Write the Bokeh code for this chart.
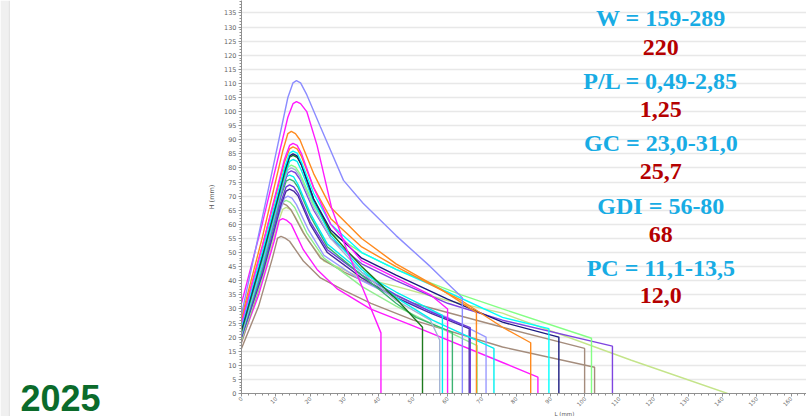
import math
from bokeh.plotting import figure
from bokeh.layouts import row
from bokeh.models import Label, Range1d, SingleIntervalTicker, BoxAnnotation
from bokeh.embed import file_html
from bokeh.resources import INLINE

# ---- alveogram curves: L (mm) points and H (mm) points ----
L_violet = [0, 6, 13.5, 15, 16, 17.2, 19, 23, 29.7, 35.4, 45, 55, 64.3, 64.3]
H_violet = [28, 62, 105, 110.2, 111, 110.2, 106, 94.5, 75.6, 67.5, 56, 45, 34, 0]

L_magenta_a = [0, 6, 13.5, 15, 16, 17.2, 19, 22, 26.2, 30, 35.4, 40.6, 40.6]
H_magenta_a = [32, 60, 98, 102.8, 103.5, 102.8, 100, 88, 66, 53, 37, 21.5, 0]

L_orange_a = [0, 6, 12, 13.5, 14.5, 15.7, 17, 21, 26, 35, 45, 58, 68.4, 68.4]
H_orange_a = [27, 55, 86, 92.2, 93, 92.2, 90, 78, 66, 55, 46, 37, 28.8, 0]

L_magenta_b = [0, 6, 12.5, 14, 15, 16.2, 17.5, 21, 26, 35, 45, 55, 60, 60]
H_magenta_b = [25, 52, 83, 88, 88.7, 88, 85, 73, 60, 47, 41, 35, 30, 0]

L_orange_b = [0, 6, 12.5, 14, 15, 16.2, 17.5, 21, 26, 35, 45, 64, 76, 84.2, 84.2]
H_orange_b = [26, 52, 82, 86.8, 87.5, 86.8, 84, 73, 62, 52, 45, 33, 23.5, 18, 0]

L_cyan_a = [0, 6, 12.5, 14, 15, 16.2, 17.5, 21, 26, 35, 45, 60, 76, 89.5, 89.5]
H_cyan_a = [24, 50, 80, 85.3, 86, 85.3, 82, 71, 60, 50, 44, 36, 27, 23, 0]

L_navy = [0, 6, 12.5, 14, 15, 16.2, 17.5, 21, 26, 35, 45, 60, 76, 92.4, 92.4]
H_navy = [23, 49, 79, 84.3, 85, 84.3, 81, 69, 58, 48, 42, 33.5, 25.3, 20, 0]

L_dkgreen = [0, 6, 12.5, 14, 15, 16.2, 17.5, 21, 26, 35, 45.5, 52.7, 52.7]
H_dkgreen = [22, 48, 78, 83.8, 84.5, 83.8, 81, 69, 57, 45, 33, 23.5, 0]

L_cyan_b = [0, 6, 12.5, 14, 15, 16.2, 17.5, 21, 26, 35, 45, 55.6, 73.5, 73.5]
H_cyan_b = [22, 47, 77, 82.3, 83, 82.3, 79, 68, 56, 44, 34, 26, 16, 0]

L_ltgreen_a = [0, 6, 12, 13.5, 14.5, 15.7, 17, 21, 26, 35, 45, 64, 76, 101.9, 101.9]
H_ltgreen_a = [23, 48, 75, 80.3, 81, 80.3, 78, 67, 57, 50, 44, 35, 30, 19.6, 0]

L_greyblue = [0, 6, 12, 13.5, 14.5, 15.7, 17, 21, 26, 35, 45, 55, 57.7, 57.7]
H_greyblue = [21, 46, 74, 79.3, 80, 79.3, 77, 66, 55, 43, 33, 26, 19, 0]

L_purple = [0, 6, 12, 13.5, 14.5, 15.7, 17, 21, 26, 35, 45, 60, 76, 108, 108]
H_purple = [22, 46, 73, 78.3, 79, 78.3, 76, 65, 55, 46, 40, 32, 26, 16.8, 0]

L_cyan_c = [0, 6, 11.5, 13, 14, 15.2, 16.5, 20, 25, 35, 45, 58.5, 58.5]
H_cyan_c = [21, 45, 71, 76.8, 77.5, 76.8, 74, 64, 53, 43, 36, 27.7, 0]

L_medgreen = [0, 6, 11.5, 13, 14, 15.2, 16.5, 20, 25, 35, 45, 50.8, 61.4, 61.4]
H_medgreen = [21, 44, 70, 75.3, 76, 75.3, 73, 63, 52, 42, 32, 27, 21.7, 0]

L_blueviolet = [0, 6, 11.5, 13, 14, 15.2, 16.5, 20, 25, 35, 45, 55, 66.6, 66.6]
H_blueviolet = [20, 43, 68, 73.3, 74, 73.3, 71, 61, 51, 42, 35, 29, 23.4, 0]

L_dkpurple = [0, 6, 11.5, 13, 14, 15.2, 16.5, 20, 25, 35, 45, 55, 66.3, 66.3]
H_dkpurple = [20, 42, 67, 71.8, 72.5, 71.8, 70, 60, 50, 41, 34, 28.5, 23, 0]

L_ltviolet = [0, 6, 11, 12.5, 13.5, 14.7, 16, 19.5, 24, 35, 45, 60, 71.2, 71.2]
H_ltviolet = [20, 42, 64, 69.3, 70, 69.3, 67, 58, 49, 40, 34, 27, 20, 0]

L_ltgreen_b = [0, 6, 10.5, 12, 13, 14.2, 15.5, 19, 24, 35, 45, 55, 68.6, 68.6]
H_ltgreen_b = [19, 41, 62, 67.8, 68.5, 67.8, 66, 57, 48, 38, 31, 25, 17, 0]

L_brown_a = [0, 5, 9.5, 11, 12, 13.2, 14.5, 18, 23, 30, 38.3, 50, 76, 99.9, 99.9]
H_brown_a = [18, 37, 58, 66.7, 67.4, 66.7, 65, 57, 48, 43, 38.4, 32, 23.5, 16, 0]

L_yellowgreen = [0, 6, 10.5, 12, 13, 14.2, 15.5, 19, 24, 35, 45, 60, 76, 113.5, 141.5]
H_yellowgreen = [19, 40, 60, 65.3, 66, 65.3, 63, 55, 47, 41, 38, 33, 28.5, 11.8, 0]

L_magenta_c = [0, 5, 9.5, 11, 12, 13.2, 14.5, 18, 22, 28, 37.5, 50, 76, 86.3, 86.3]
H_magenta_c = [18.5, 35, 54, 61.4, 62, 61.4, 60, 51, 44, 37, 30, 24, 11, 5.8, 0]

L_brown_b = [0, 5, 9, 10.5, 11.5, 12.7, 14, 18, 23, 30, 37.7, 50, 76, 102.8, 102.8]
H_brown_b = [16, 31, 48, 55.1, 55.7, 55.1, 54, 47, 41, 36.5, 32, 26, 16.5, 9.3, 0]

# ---- texts ----
param_labels = ["W = 159-289", "P/L = 0,49-2,85", "GC = 23,0-31,0", "GDI = 56-80", "PC = 11,1-13,5"]
param_means = ["220", "1,25", "25,7", "68", "12,0"]
year_label = "2025"
x_title = "L (mm)"
y_title = "H (mm)"

curves = [
    (L_yellowgreen, H_yellowgreen, "#C4E48A"),
    (L_brown_b, H_brown_b, "#A48C7C"),
    (L_magenta_c, H_magenta_c, "#FF1AFF"),
    (L_brown_a, H_brown_a, "#A48C7C"),
    (L_ltgreen_b, H_ltgreen_b, "#90EE90"),
    (L_ltviolet, H_ltviolet, "#9A9AFF"),
    (L_dkpurple, H_dkpurple, "#4B2CA0"),
    (L_blueviolet, H_blueviolet, "#6A3BD9"),
    (L_medgreen, H_medgreen, "#3CB371"),
    (L_cyan_c, H_cyan_c, "#00EEF0"),
    (L_purple, H_purple, "#7F45E0"),
    (L_greyblue, H_greyblue, "#A4B4D4"),
    (L_ltgreen_a, H_ltgreen_a, "#84FF84"),
    (L_cyan_b, H_cyan_b, "#00F0F0"),
    (L_dkgreen, H_dkgreen, "#1E7A1E"),
    (L_navy, H_navy, "#1A1A80"),
    (L_cyan_a, H_cyan_a, "#00FFFF"),
    (L_orange_b, H_orange_b, "#FF8A1E"),
    (L_magenta_b, H_magenta_b, "#FF1AFF"),
    (L_orange_a, H_orange_a, "#FF8A1E"),
    (L_magenta_a, H_magenta_a, "#FF1AFF"),
    (L_violet, H_violet, "#8C8CFF"),
]

# ---- left panel (slide margin with the year) ----
side = figure(width=205, height=416, x_range=Range1d(0, 205), y_range=Range1d(0, 416),
              output_backend="svg", toolbar_location=None,
              min_border_left=0, min_border_right=0, min_border_top=0, min_border_bottom=0)
side.axis.visible = False
side.grid.visible = False
side.outline_line_color = None
side.add_layout(BoxAnnotation(left=0, right=8, fill_color="#F0F0F0", fill_alpha=1.0, line_color=None))
side.add_layout(BoxAnnotation(left=8, right=9.5, fill_color="#E4E4E4", fill_alpha=1.0, line_color=None))
side.add_layout(Label(x=20, y=19, text=year_label, text_align="left", text_baseline="alphabetic",
                      text_font="Liberation Sans", text_font_style="bold",
                      text_font_size="36px", text_color="#0B6B2B"))

# ---- main alveogram chart ----
p = figure(width=601, height=416, x_range=Range1d(0, 164.5), y_range=Range1d(0, 139.4),
           output_backend="svg", toolbar_location=None,
           min_border_left=32, min_border_right=0, min_border_top=0, min_border_bottom=23)
p.outline_line_color = None
p.background_fill_color = "white"
p.border_fill_color = "white"

for fig in (side, p):
    try:
        fig.frame_align = False
    except Exception:
        pass

xt = SingleIntervalTicker(interval=10, num_minor_ticks=5)
yt = SingleIntervalTicker(interval=5, num_minor_ticks=5)
p.xaxis.ticker = xt
p.yaxis.ticker = yt
p.xgrid.visible = False
p.ygrid.ticker = yt
p.ygrid.grid_line_color = "#E8E8E8"
p.ygrid.grid_line_width = 1.5

for ax in (p.xaxis[0], p.yaxis[0]):
    ax.major_label_text_color = "#666666"
    ax.major_label_text_font = "DejaVu Sans"
    ax.axis_line_color = "#909090"
    ax.major_tick_line_color = "#909090"
    ax.minor_tick_line_color = "#909090"
    ax.major_tick_out = 3
    ax.major_tick_in = 0
    ax.minor_tick_out = 2
    ax.minor_tick_in = 0
p.yaxis.major_label_text_font_size = "6.5px"
p.yaxis.major_label_standoff = 2
p.xaxis.major_label_text_font_size = "5.5px"
p.xaxis.major_label_standoff = 1
p.xaxis.major_label_orientation = math.pi / 4
p.yaxis.axis_label = y_title
p.yaxis.axis_label_text_font_size = "6.5px"
p.yaxis.axis_label_text_font_style = "normal"
p.yaxis.axis_label_text_color = "#555555"
p.yaxis.axis_label_text_font = "DejaVu Sans"
p.yaxis.axis_label_standoff = 5

# x-axis title, shown below the tick labels
p.title.text = x_title
p.title_location = "below"
p.title.align = "left"
p.title.offset = 313
try:
    p.title.standoff = -6
except Exception:
    p.title.standoff = 0
p.title.text_font = "DejaVu Sans"
p.title.text_font_size = "5.5px"
p.title.text_font_style = "normal"
p.title.text_color = "#555555"

for L, H, c in curves:
    p.line(L, H, line_color=c, line_width=1.4)

# statistics block on the right
stat_x = 122.1
label_base = [133.3, 111.0, 89.0, 66.6, 44.6]
mean_base = [122.7, 100.7, 78.7, 56.3, 34.7]
for t, yb in zip(param_labels, label_base):
    p.add_layout(Label(x=stat_x, y=yb, text=t, text_align="center", text_baseline="alphabetic",
                       text_font="Liberation Serif", text_font_style="bold",
                       text_font_size="24px", text_color="#18ACE4"))
for t, yb in zip(param_means, mean_base):
    p.add_layout(Label(x=stat_x, y=yb, text=t, text_align="center", text_baseline="alphabetic",
                       text_font="Liberation Serif", text_font_style="bold",
                       text_font_size="24px", text_color="#B50000"))

layout = row(side, p)
open("out.html", "w").write(file_html(layout, INLINE))
